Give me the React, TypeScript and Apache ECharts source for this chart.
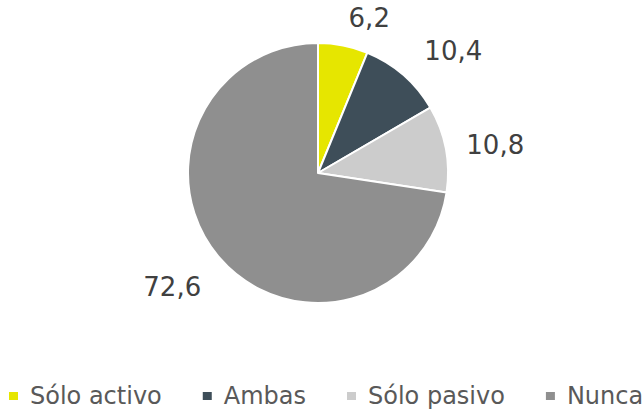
import React, { useEffect, useRef } from "react";
import * as echarts from "echarts";

const categories = ["Sólo activo", "Ambas", "Sólo pasivo", "Nunca"];
const values = [6.2, 10.4, 10.8, 72.6];
const colors = ["#E6E600", "#3E4E59", "#CCCCCC", "#8F8F8F"];
const labelLengths = [28, 32, 21, 24];
const labelNudgeY = [0, 0, 0, 14];

export default function App() {
  const ref = useRef<HTMLDivElement>(null);
  useEffect(() => {
    document.body.style.margin = "0";
    const chart = echarts.init(ref.current!, null, { renderer: "svg" });
    const font = "'DejaVu Sans', sans-serif";
    chart.setOption({
      animation: false,
      backgroundColor: "#FFFFFF",
      legend: {
        left: 7,
        top: 384,
        width: 644,
        padding: 0,
        icon: "rect",
        itemWidth: 11,
        itemHeight: 10,
        itemGap: 39,
        data: categories,
        textStyle: {
          fontFamily: font,
          fontSize: 24,
          color: "#595959",
          padding: [0, 0, 0, 6],
        },
      },
      series: [
        {
          type: "pie",
          center: [318, 173],
          radius: [0, 130],
          startAngle: 90,
          clockwise: true,
          avoidLabelOverlap: false,
          itemStyle: { borderColor: "#FFFFFF", borderWidth: 2 },
          label: {
            show: true,
            position: "outside",
            fontFamily: font,
            fontSize: 26,
            color: "#404040",
            distanceToLabelLine: 0,
            formatter: (p: any) => String(p.value).replace(".", ","),
          },
          labelLine: { show: false, length2: 0 },
          labelLayout: (p: any) => ({ dy: labelNudgeY[p.dataIndex] || 0 }),
          data: categories.map((name, i) => ({
            name,
            value: values[i],
            itemStyle: { color: colors[i] },
            labelLine: { show: false, length: labelLengths[i], length2: 0 },
          })),
        },
      ],
    });
    return () => chart.dispose();
  }, []);
  return <div ref={ref} style={{ width: 644, height: 410 }} />;
}
